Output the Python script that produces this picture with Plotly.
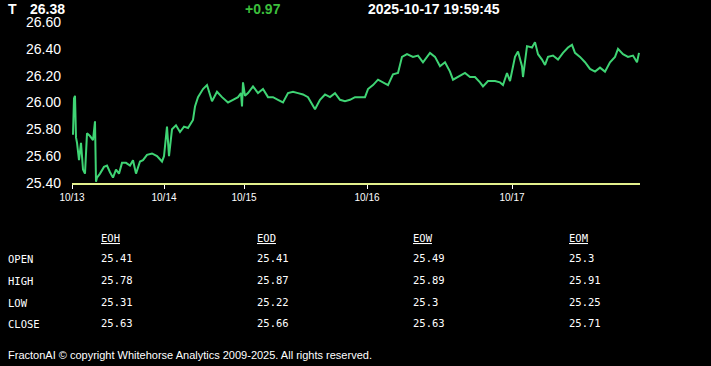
import plotly.graph_objects as go

# ---- data ----
ticker = "T"
last_price = "26.38"
change = "+0.97"
timestamp = "2025-10-17 19:59:45"

# bar index (time position in session bars) and price
bars = [1, 2, 3, 4, 5, 7, 9, 11, 13, 15, 18, 21, 23, 24, 25, 28, 32, 35, 38, 41, 44, 47,
        50, 54, 58, 61, 64, 68, 71, 75, 80, 85, 90, 92, 95, 97, 100, 104, 108, 112, 116,
        119, 121, 123, 126, 131, 135, 140, 145, 150, 156, 161, 166, 169, 170, 171, 173,
        176, 181, 186, 191, 196, 201, 206, 211, 216, 221, 226, 231, 236, 241, 243, 248,
        253, 258, 263, 268, 273, 278, 283, 288, 293, 296, 301, 306, 311, 316, 321, 326,
        330, 335, 341, 346, 351, 358, 363, 368, 373, 378, 381, 386, 393, 398, 403, 408,
        411, 416, 423, 428, 431, 435, 438, 443, 446, 450, 451, 455, 460, 463, 466, 470,
        473, 476, 481, 486, 491, 496, 500, 503, 508, 513, 518, 523, 528, 533, 538, 543,
        546, 551, 556, 561, 565, 567]
prices = [25.76, 26.03, 26.05, 25.74, 25.70, 25.57, 25.70, 25.50, 25.47, 25.77, 25.75,
          25.72, 25.86, 25.41, 25.44, 25.47, 25.52, 25.53, 25.48, 25.44, 25.50, 25.47,
          25.55, 25.55, 25.53, 25.57, 25.47, 25.56, 25.57, 25.61, 25.62, 25.60, 25.56,
          25.60, 25.82, 25.60, 25.80, 25.83, 25.78, 25.82, 25.81, 25.85, 25.87, 25.97,
          26.04, 26.10, 26.13, 26.01, 26.08, 26.04, 26.00, 26.02, 26.04, 26.07, 25.97,
          26.15, 26.05, 26.07, 26.12, 26.07, 26.10, 26.04, 26.04, 26.02, 26.00, 26.07,
          26.08, 26.07, 26.06, 26.04, 25.98, 25.95, 26.02, 26.06, 26.04, 26.07, 26.02,
          26.01, 26.02, 26.04, 26.04, 26.04, 26.10, 26.13, 26.17, 26.15, 26.13, 26.21,
          26.22, 26.34, 26.36, 26.34, 26.35, 26.30, 26.37, 26.34, 26.27, 26.30, 26.23,
          26.17, 26.19, 26.22, 26.19, 26.19, 26.15, 26.12, 26.16, 26.16, 26.15, 26.13,
          26.22, 26.16, 26.34, 26.38, 26.27, 26.19, 26.42, 26.41, 26.45, 26.36, 26.32,
          26.28, 26.34, 26.35, 26.32, 26.37, 26.41, 26.43, 26.37, 26.34, 26.30, 26.25,
          26.23, 26.26, 26.23, 26.30, 26.34, 26.40, 26.36, 26.34, 26.35, 26.30, 26.37]

day_start_bars = [0, 92, 172, 295, 440]
day_labels = ["10/13", "10/14", "10/15", "10/16", "10/17"]

y_ticks = [25.40, 25.60, 25.80, 26.00, 26.20, 26.40, 26.60]

table_columns = ["EOH", "EOD", "EOW", "EOM"]
table_rows = ["OPEN", "HIGH", "LOW", "CLOSE"]
table_values = {
    "EOH": ["25.41", "25.78", "25.31", "25.63"],
    "EOD": ["25.41", "25.87", "25.22", "25.66"],
    "EOW": ["25.49", "25.89", "25.3", "25.63"],
    "EOM": ["25.3", "25.91", "25.25", "25.71"],
}
footer = "FractonAI \u00a9 copyright Whitehorse Analytics 2009-2025. All rights reserved."

# ---- layout constants ----
W, H = 711, 366
L, R, T, B = 72, 71, 22, 183
PW, PH = W - L - R, H - T - B


def px(x):
    return (x - L) / PW


def py(y):
    return (H - B - y) / PH


fig = go.Figure()
fig.add_trace(go.Scatter(x=bars, y=prices, mode="lines",
                         line=dict(color="#3fd474", width=2), hoverinfo="skip"))

ann = []
hdr_font = dict(family="Liberation Sans, Arial", size=14, color="white")
ann.append(dict(x=px(6), y=py(9), text=f"<b>{ticker}</b>", xanchor="left", yanchor="middle", font=hdr_font))
ann.append(dict(x=px(28), y=py(9), text=f"<b>{last_price}</b>", xanchor="left", yanchor="middle", font=hdr_font))
ann.append(dict(x=px(243), y=py(9), text=f"<b>{change}</b>", xanchor="left", yanchor="middle",
                font=dict(family="Liberation Sans, Arial", size=14, color="#3cbf3c")))
ann.append(dict(x=px(366), y=py(9), text=f"<b>{timestamp}</b>", xanchor="left", yanchor="middle", font=hdr_font))

mono = dict(family="DejaVu Sans Mono, Liberation Mono, monospace", size=10.5, color="white")
col_x = [99, 255, 411, 567]
row_y = [259, 281, 303, 324]
for cx, c in zip(col_x, table_columns):
    ann.append(dict(x=px(cx), y=py(238), text=f"<u>{c}</u>", xanchor="left", yanchor="middle", font=mono))
    for ry, v in zip(row_y, table_values[c]):
        ann.append(dict(x=px(cx), y=py(ry - 1), text=v, xanchor="left", yanchor="middle", font=mono))
for ry, r in zip(row_y, table_rows):
    ann.append(dict(x=px(6), y=py(ry), text=r, xanchor="left", yanchor="middle", font=mono))

ann.append(dict(x=px(6), y=py(355), text=footer, xanchor="left", yanchor="middle",
                font=dict(family="Liberation Sans, Arial", size=11, color="white")))

for a in ann:
    a.update(xref="paper", yref="paper", showarrow=False)

fig.update_layout(
    width=W, height=H,
    margin=dict(l=L, r=R, t=T, b=B, pad=0),
    paper_bgcolor="black", plot_bgcolor="black",
    showlegend=False,
    annotations=ann,
    xaxis=dict(range=[0, 568], tickvals=day_start_bars, ticktext=day_labels,
               showgrid=False, zeroline=False, showline=True, linecolor="#e2ef8c", linewidth=2,
               ticks="outside", tickcolor="white", ticklen=4, tickwidth=1,
               tickfont=dict(family="Liberation Sans, Arial", size=10, color="white")),
    yaxis=dict(range=[25.40, 26.60], tickvals=y_ticks, tickformat=".2f",
               showgrid=False, zeroline=False, showline=False, ticks="",
               ticklabelstandoff=10,
               tickfont=dict(family="Liberation Sans, Arial", size=14, color="white")),
)

fig.write_html("out.html", config={"displayModeBar": False},
               post_script="document.body.style.margin='0';document.body.style.background='black';")
